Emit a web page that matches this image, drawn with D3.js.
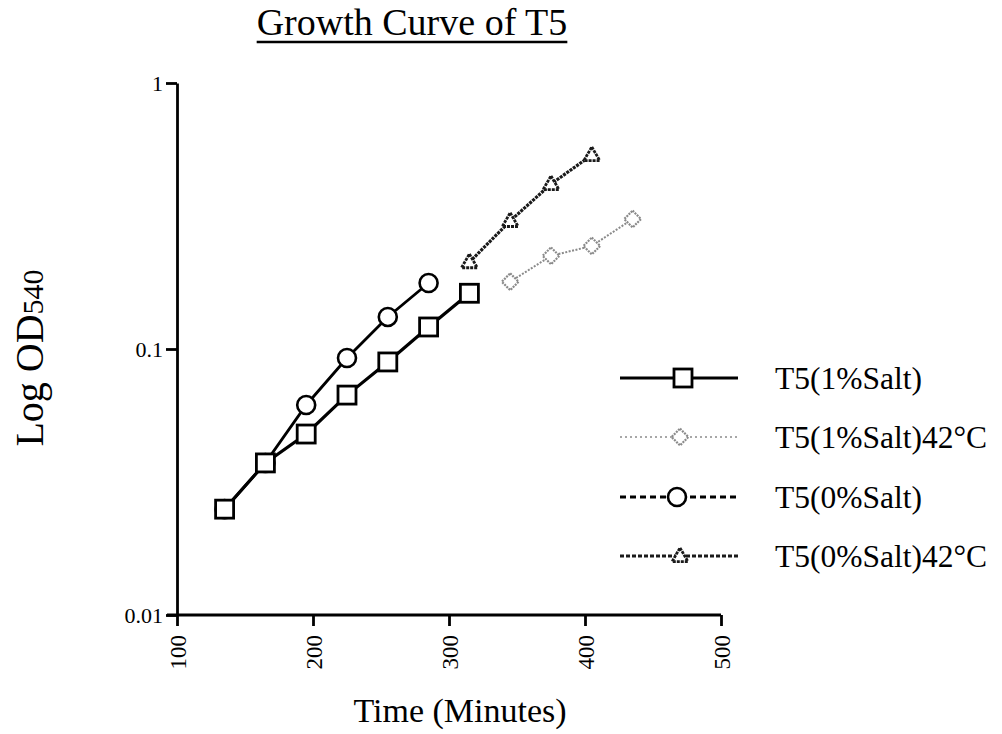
<!DOCTYPE html>
<html>
<head>
<meta charset="utf-8">
<script src="https://cdn.jsdelivr.net/npm/d3@7"></script>
<style>
  html, body { margin: 0; padding: 0; background: #fff; }
  svg { display: block; }
  text { font-family: "Liberation Serif", "Times New Roman", serif; fill: #000; }
</style>
</head>
<body>
<svg id="chart" width="1002" height="734"></svg>
<script>
// Growth of strain T5 under different salt / temperature conditions (OD540, log scale)
const salt1Times   = [135, 165, 195, 225, 255, 285, 315];
const salt1Values  = [0.025, 0.0373, 0.0479, 0.0671, 0.0894, 0.121, 0.162];

const salt1HotTimes  = [345, 375, 405, 435];
const salt1HotValues = [0.179, 0.224, 0.244, 0.308];

const salt0Times   = [135, 165, 195, 225, 255, 285];
const salt0Values  = [0.025, 0.0373, 0.0616, 0.0925, 0.132, 0.177];

const salt0HotTimes  = [315, 345, 375, 405];
const salt0HotValues = [0.212, 0.303, 0.417, 0.536];

const seriesNames = ["T5(1%Salt)", "T5(1%Salt)42°C", "T5(0%Salt)", "T5(0%Salt)42°C"];
const xTicks = [100, 200, 300, 400, 500];
const yTicks = [0.01, 0.1, 1];

const series = [
  { name: seriesNames[0], t: salt1Times,    v: salt1Values,    shape: "square",   color: "#000",    width: 3.2, dash: null,    legendDash: null },
  { name: seriesNames[1], t: salt1HotTimes, v: salt1HotValues, shape: "diamond",  color: "#8a8a8a", width: 2,   dash: "2,1.5", legendDash: "2,3" },
  { name: seriesNames[2], t: salt0Times,    v: salt0Values,    shape: "circle",   color: "#000",    width: 2.8, dash: null,    legendDash: "6,4" },
  { name: seriesNames[3], t: salt0HotTimes, v: salt0HotValues, shape: "triangle", color: "#1a1a1a", width: 3.2, dash: "3,1",   legendDash: "4,2" }
];

const svg = d3.select("#chart");
const x = d3.scaleLinear().domain([100, 500]).range([177, 721]);
const y = d3.scaleLog().domain([0.01, 1]).range([615, 83]);

// Title with underline
const title = svg.append("text")
  .attr("x", 412).attr("y", 35)
  .attr("text-anchor", "middle")
  .style("font-size", "38px")
  .text("Growth Curve of T5");
const tb = title.node().getBBox();
svg.append("line")
  .attr("x1", tb.x).attr("x2", tb.x + tb.width)
  .attr("y1", 42).attr("y2", 42)
  .attr("stroke", "#000").attr("stroke-width", 2.5);

// Axes
const tickFont = "Liberation Serif, Times New Roman, serif";
const yAxis = d3.axisLeft(y).tickValues(yTicks).tickSize(11).tickSizeOuter(0)
  .tickFormat(d => d === 1 ? "1" : String(d));
const gy = svg.append("g").attr("transform", "translate(177,0)").call(yAxis);
gy.select(".domain").attr("stroke-width", 2.8);
gy.selectAll(".tick line").attr("stroke-width", 2.8);
gy.selectAll(".tick text").attr("x", -14)
  .style("font-size", "22px").style("font-family", tickFont);

const xAxis = d3.axisBottom(x).tickValues(xTicks).tickSize(11).tickSizeOuter(0);
const gx = svg.append("g").attr("transform", "translate(0,615)").call(xAxis);
gx.select(".domain").attr("stroke-width", 2.8).attr("d", "M167,0H721");
gx.selectAll(".tick line").attr("stroke-width", 2.8);
gx.selectAll(".tick text")
  .attr("transform", "rotate(-90)")
  .attr("x", -20).attr("y", 0).attr("dy", "0.35em")
  .attr("text-anchor", "end")
  .style("font-size", "23px").style("font-family", tickFont);

// Axis titles
svg.append("text")
  .attr("x", 460).attr("y", 722)
  .attr("text-anchor", "middle")
  .style("font-size", "34px")
  .text("Time (Minutes)");

const yl = svg.append("text")
  .attr("transform", "translate(43,358) rotate(-90)")
  .attr("text-anchor", "middle")
  .style("font-size", "40px");
yl.append("tspan").text("Log OD");
yl.append("tspan").style("font-size", "30px").text("540");

// Marker drawing
function drawMarker(g, shape, cx, cy, color) {
  if (shape === "square") {
    g.append("rect").attr("x", cx - 9).attr("y", cy - 9).attr("width", 18).attr("height", 18)
      .attr("fill", "#fff").attr("stroke", color).attr("stroke-width", 2.8);
  } else if (shape === "circle") {
    g.append("circle").attr("cx", cx).attr("cy", cy).attr("r", 9)
      .attr("fill", "#fff").attr("stroke", color).attr("stroke-width", 2.6);
  } else if (shape === "diamond") {
    g.append("path").attr("d", d3.symbol(d3.symbolDiamond2, 180)())
      .attr("transform", `translate(${cx},${cy})`)
      .attr("fill", "#fff").attr("stroke", color).attr("stroke-width", 2.2).attr("stroke-dasharray", "2,1");
  } else if (shape === "triangle") {
    g.append("path").attr("d", d3.symbol(d3.symbolTriangle2, 180)())
      .attr("transform", `translate(${cx},${cy + 1})`)
      .attr("fill", "#fff").attr("stroke", color).attr("stroke-width", 2.8).attr("stroke-dasharray", "3,1");
  }
}

// Series lines and markers (later series underneath so the squares stay on top)
const line = d3.line().x(d => x(d[0])).y(d => y(d[1]));
const plot = svg.append("g");
[1, 3, 2, 0].forEach(i => {
  const s = series[i];
  const pts = s.t.map((t, k) => [t, s.v[k]]);
  plot.append("path").datum(pts)
    .attr("d", line)
    .attr("fill", "none")
    .attr("stroke", s.color)
    .attr("stroke-width", s.width)
    .attr("stroke-dasharray", s.dash);
  pts.forEach(p => drawMarker(plot, s.shape, x(p[0]), y(p[1]), s.color));
});

// Legend
const legend = svg.append("g");
const rowY = [378, 437, 497, 556];
series.forEach((s, i) => {
  const ly = rowY[i];
  legend.append("line")
    .attr("x1", 620).attr("x2", 738).attr("y1", ly).attr("y2", ly)
    .attr("stroke", s.color)
    .attr("stroke-width", i === 1 ? 1.5 : (i === 0 ? 3.2 : 2.8))
    .attr("stroke-dasharray", s.legendDash);
  drawMarker(legend, s.shape, i === 0 ? 683 : (i === 2 ? 677 : 680), ly, s.color);
  legend.append("text")
    .attr("x", 775).attr("y", ly).attr("dy", "0.35em")
    .style("font-size", "31.5px")
    .text(s.name);
});
</script>
</body>
</html>
